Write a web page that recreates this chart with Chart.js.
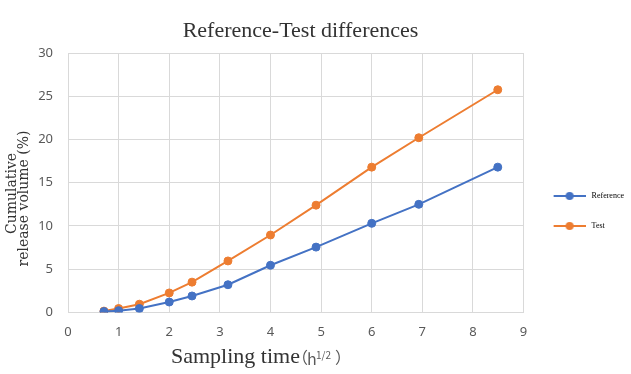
<!DOCTYPE html>
<html>
<head>
<meta charset="utf-8">
<script src="https://cdn.jsdelivr.net/npm/chart.js@4"></script>
<style>
  html, body { margin: 0; padding: 0; background: #fff; }
  #wrap { width: 631px; height: 374px; }
</style>
</head>
<body>
<div id="wrap"><canvas id="myChart" width="631" height="374"></canvas></div>
<script>
'use strict'

// Chart data (sampling time in h^1/2, cumulative release in %)
const sampleTimes = [0.71, 1, 1.41, 2, 2.45, 3.16, 4, 4.9, 6, 6.93, 8.49];
const referenceValues = [0.1, 0.2, 0.45, 1.2, 1.9, 3.2, 5.45, 7.55, 10.3, 12.5, 16.8];
const testValues = [0.15, 0.45, 0.95, 2.25, 3.5, 5.95, 8.95, 12.4, 16.8, 20.2, 25.75];
const seriesNames = ['Reference', 'Test'];
const seriesColors = ['#4472C4', '#ED7D31'];
const xTicks = [0, 9, 1];   // min, max, step
const yTicks = [0, 30, 5];
const yTitleLines = ['Cumulative', 'release volume (%)'];

const tickColor = '#595959';
const gridColor = '#d9d9d9';
const textColor = '#333333';

function toPoints(values) {
  let points = [];
  for (let i = 0; i < sampleTimes.length; i++) {
    points.push({ x: sampleTimes[i], y: values[i] });
  }
  return points;
}

// little line+dot marker for the legend, like the spreadsheet one
function makeMarker(color) {
  let c = document.createElement('canvas');
  c.width = 38;
  c.height = 10;
  let g = c.getContext('2d');
  g.strokeStyle = color;
  g.lineWidth = 2;
  g.beginPath();
  g.moveTo(6, 5);
  g.lineTo(38, 5);
  g.stroke();
  g.fillStyle = color;
  g.beginPath();
  g.arc(22, 5, 4, 0, Math.PI * 2);
  g.fill();
  return c;
}
const markers = seriesColors.map(makeMarker);

// chart title and the two axis titles (x one has a superscript)
const textPlugin = {
  id: 'texts',
  afterDraw(chart) {
    const ctx = chart.ctx;
    ctx.save();
    ctx.textBaseline = 'alphabetic';

    ctx.fillStyle = textColor;
    ctx.font = '22px "Liberation Serif"';
    ctx.textAlign = 'center';
    ctx.fillText('Reference-Test differences', 300.5, 37);

    ctx.textAlign = 'left';
    ctx.fillText('Sampling time', 171, 363);

    ctx.fillStyle = tickColor;
    ctx.font = '16px "Noto Sans CJK SC"';
    ctx.fillText('（', 292, 363);
    ctx.fillText('h', 307, 365);
    ctx.font = '10px "Noto Sans CJK SC"';
    ctx.fillText('1/2', 316, 359);
    ctx.font = '16px "Noto Sans CJK SC"';
    ctx.fillText('）', 335, 363);

    // y axis title, rotated
    ctx.fillStyle = textColor;
    ctx.font = '14px "DejaVu Serif"';
    ctx.textAlign = 'center';
    ctx.save();
    ctx.translate(15.5, 193.5);
    ctx.rotate(-Math.PI / 2);
    ctx.fillText(yTitleLines[0], 0, 0);
    ctx.restore();
    ctx.save();
    ctx.translate(27.5, 198.5);
    ctx.rotate(-Math.PI / 2);
    ctx.fillText(yTitleLines[1], 0, 0);
    ctx.restore();

    ctx.restore();
  }
};

const data = {
  datasets: [
    {
      label: seriesNames[0],
      data: toPoints(referenceValues),
      borderColor: seriesColors[0],
      backgroundColor: seriesColors[0],
      borderWidth: 2,
      pointRadius: 4,
      pointBorderWidth: 1,
      tension: 0
    },
    {
      label: seriesNames[1],
      data: toPoints(testValues),
      borderColor: seriesColors[1],
      backgroundColor: seriesColors[1],
      borderWidth: 2,
      pointRadius: 4,
      pointBorderWidth: 1,
      tension: 0
    }
  ]
};

const config = {
  type: 'line',
  data: data,
  plugins: [textPlugin],
  options: {
    responsive: false,
    animation: false,
    layout: {
      padding: { top: 48, right: -3, bottom: 0, left: 0 }
    },
    plugins: {
      title: { display: false },
      tooltip: { enabled: false },
      legend: {
        position: 'right',
        labels: {
          usePointStyle: true,
          pointStyleWidth: 42,
          padding: 22,
          color: '#000',
          font: { family: '"Liberation Serif"', size: 8 },
          generateLabels(chart) {
            let items = Chart.defaults.plugins.legend.labels.generateLabels(chart);
            items.forEach(function (item) {
              item.pointStyle = markers[item.datasetIndex];
            });
            return items;
          }
        }
      }
    },
    scales: {
      x: {
        type: 'linear',
        min: xTicks[0],
        max: xTicks[1],
        ticks: {
          stepSize: xTicks[2],
          padding: 12,
          color: tickColor,
          font: { family: '"Noto Sans"', size: 13 }
        },
        grid: { color: gridColor, drawTicks: false },
        border: { color: gridColor },
        afterFit(scale) {
          // room for the axis title drawn by the plugin
          scale.height += 22;
        }
      },
      y: {
        min: yTicks[0],
        max: yTicks[1],
        ticks: {
          stepSize: yTicks[2],
          padding: 15,
          color: tickColor,
          font: { family: '"Noto Sans"', size: 13 }
        },
        grid: { color: gridColor, drawTicks: false },
        border: { color: gridColor },
        afterFit(scale) {
          // fixed width, the title is drawn by the plugin
          scale.width = 68;
          scale.paddingTop = 53;
        }
      }
    }
  }
};

const myChart = new Chart(document.getElementById('myChart'), config);
</script>
</body>
</html>
